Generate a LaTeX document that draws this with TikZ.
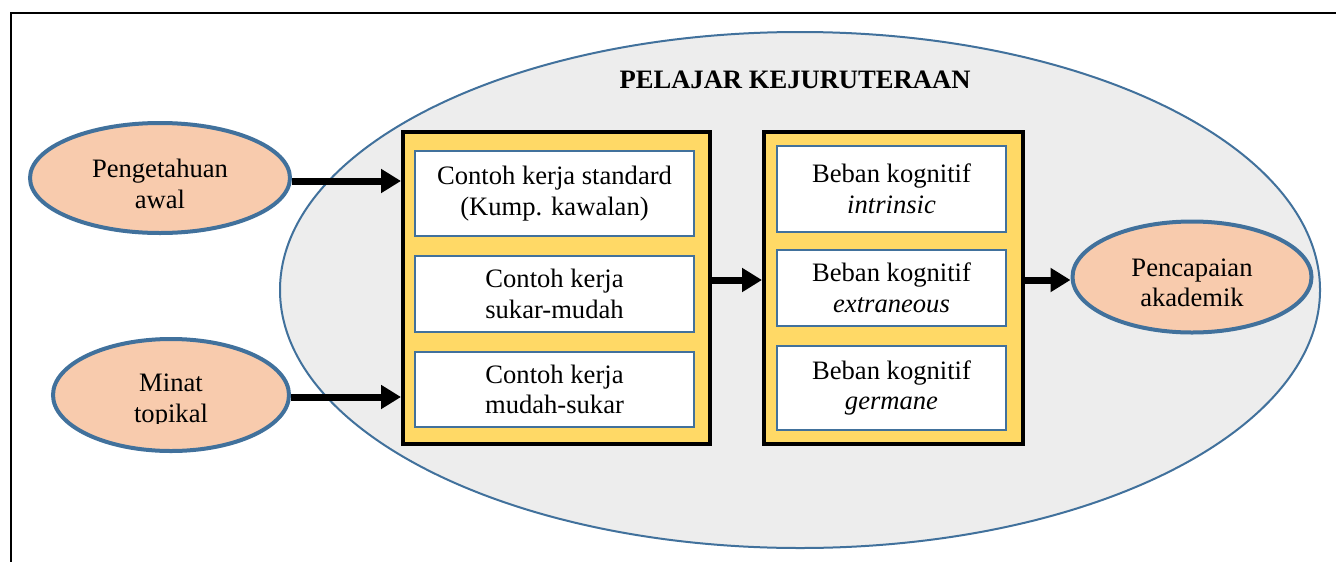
\documentclass[tikz,border=0pt]{standalone}
\usepackage{fontspec}
\setmainfont{Liberation Serif}
\usetikzlibrary{shapes.geometric,arrows.meta}
\definecolor{ebl}{HTML}{41719C}
\definecolor{peach}{HTML}{F8CBAD}
\definecolor{gold}{HTML}{FFD966}
\definecolor{lgray}{HTML}{EDEDED}
\tikzset{
  txt/.style={font=\fontsize{13.3}{15.3}\selectfont, align=center},
  oval/.style={ellipse, draw=ebl, line width=2pt, fill=peach, inner sep=0pt},
  goldbox/.style={rectangle, draw=black, line width=2pt, fill=gold, inner sep=0pt},
  whitebox/.style={rectangle, draw=ebl, line width=1pt, fill=white, inner sep=0pt, txt},
  bigarrow/.style={line width=3.5pt, -{Triangle[length=10pt,width=11.5pt]}}
}
\begin{document}
\begin{tikzpicture}[x=0.5pt,y=-0.5pt]
\useasboundingbox (0,0) rectangle (1336,562);
\fill[white] (0,0) rectangle (1336,562);
% frame
\coordinate (fr1) at (1336,13);
\coordinate (fr2) at (11,13);
\coordinate (fr3) at (11,562);
\draw[line width=1pt] (fr1) -- (fr2) -- (fr3);
% big ellipse
\node (big) [ellipse, draw=ebl, line width=1pt, fill=lgray, minimum width=520pt, minimum height=258pt, inner sep=0pt] at (800,290) {};
\node (title) [txt, font=\fontsize{13.3}{15.3}\selectfont\bfseries] at (795,80) {PELAJAR KEJURUTERAAN};
% left inputs
\node (peng) [oval, minimum width=130pt, minimum height=55pt] at (160,178) {};
\node (pengtext) [txt] at (160,184) {Pengetahuan\\awal};
\node (minat) [oval, minimum width=118pt, minimum height=56pt] at (171,395) {};
\begin{scope}
\clip (100,340) rectangle (250,423);
\node (minattext) [txt] at (171,401) {Minat\\topikal};
\end{scope}
% left gold box
\node (lbox) [goldbox, minimum width=153.5pt, minimum height=156pt] at (556.5,288) {};
\node (c1) [whitebox, minimum width=139.5pt, minimum height=42.5pt] at (554.5,193.5) {Contoh kerja standard\\(Kump. kawalan)};
\node (c2) [whitebox, minimum width=139.5pt, minimum height=38pt] at (554.5,294) {Contoh kerja\\sukar-mudah};
\node (c3) [whitebox, minimum width=139.5pt, minimum height=37.5pt] at (554.5,389.5) {Contoh kerja\\mudah-sukar};
% right gold box
\node (rbox) [goldbox, minimum width=129.5pt, minimum height=156pt] at (893.5,288) {};
\node (b1) [whitebox, minimum width=114.5pt, minimum height=43pt] at (891.5,189) {Beban kognitif\\\textit{intrinsic}};
\node (b2) [whitebox, minimum width=114.5pt, minimum height=38pt] at (891.5,288) {Beban kognitif\\\textit{extraneous}};
\node (b3) [whitebox, minimum width=114.5pt, minimum height=42pt] at (891.5,388) {Beban kognitif\\\textit{germane}};
% output
\node (penc) [oval, minimum width=119.5pt, minimum height=55.5pt] at (1192,277) {};
\node (penctext) [txt] at (1192,283) {Pencapaian\\akademik};
% arrows
\draw[bigarrow] (peng.east |- 0,181) -- (lbox.west |- 0,181);
\draw[bigarrow] (minat.east |- 0,397) -- (lbox.west |- 0,397);
\draw[bigarrow] (lbox.east |- 0,280) -- (rbox.west |- 0,280);
\draw[bigarrow] (rbox.east |- 0,280) -- (penc.west |- 0,280);
\end{tikzpicture}
\end{document}
